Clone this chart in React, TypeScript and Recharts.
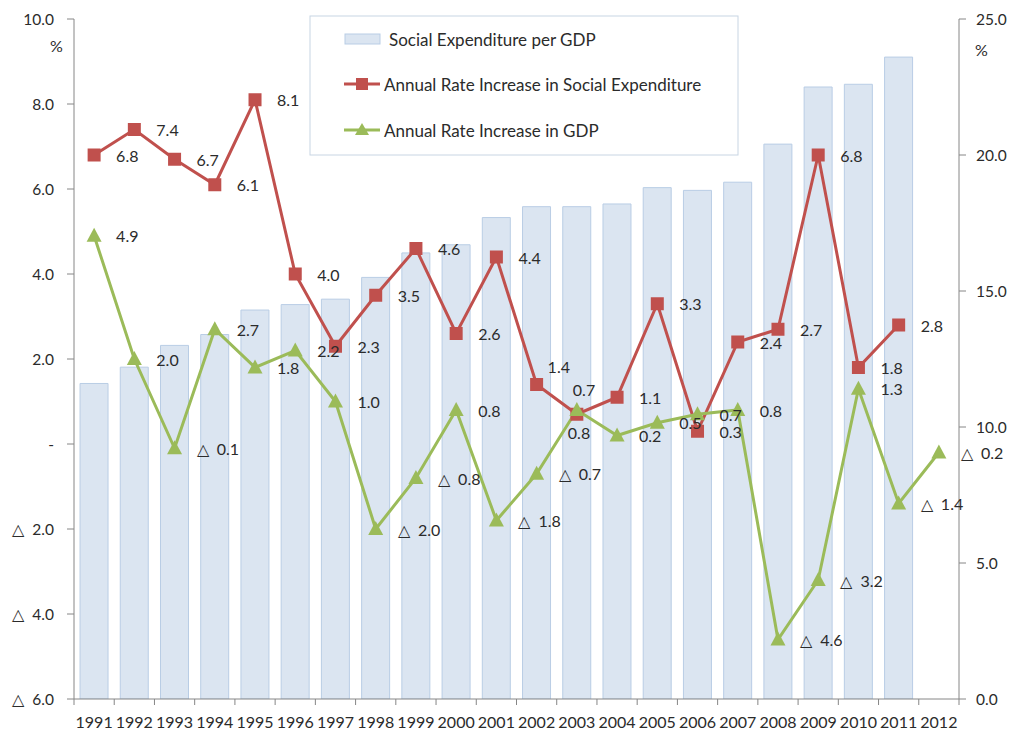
import React from "react";
import { ComposedChart, Bar, Line, XAxis, YAxis, LabelList } from "recharts";

const years = ["1991", "1992", "1993", "1994", "1995", "1996", "1997", "1998", "1999", "2000", "2001", "2002", "2003", "2004", "2005", "2006", "2007", "2008", "2009", "2010", "2011", "2012"];
const socialExpPerGdp = [11.6, 12.2, 13.0, 13.4, 14.3, 14.5, 14.7, 15.5, 16.4, 16.7, 17.7, 18.1, 18.1, 18.2, 18.8, 18.7, 19.0, 20.4, 22.5, 22.6, 23.6, null];
const socialExpGrowth = [6.8, 7.4, 6.7, 6.1, 8.1, 4.0, 2.3, 3.5, 4.6, 2.6, 4.4, 1.4, 0.7, 1.1, 3.3, 0.3, 2.4, 2.7, 6.8, 1.8, 2.8, null];
const gdpGrowth = [4.9, 2.0, -0.1, 2.7, 1.8, 2.2, 1.0, -2.0, -0.8, 0.8, -1.8, -0.7, 0.8, 0.2, 0.5, 0.7, 0.8, -4.6, -3.2, 1.3, -1.4, -0.2];
const leftTicks = [-6, -4, -2, 0, 2, 4, 6, 8, 10];
const rightTicks = [0, 5, 10, 15, 20, 25];

const data = years.map((year, i) => ({
  year,
  exp: socialExpPerGdp[i],
  expGrowth: socialExpGrowth[i],
  gdp: gdpGrowth[i],
}));

const RED = "#c0504d";
const GREEN = "#9bbb59";
const BAR_FILL = "#dbe5f1";
const BAR_STROKE = "#b9cde5";
const AXIS = "#868686";
const TEXT = "#2b2b2b";
const FONT = "Lato, 'Open Sans', sans-serif";

const W = 1017;
const H = 733;
const LEFT = 74;
const RIGHT = 58;
const TOP = 19;
const BOTTOM = 34;
const band = (W - LEFT - RIGHT) / years.length;
const axisY = H - BOTTOM;

// a few labels were dragged around by hand in the original
const redNudge: Record<string, [number, number]> = { "2002": [11, -18], "2003": [-4, -25] };
const greenNudge: Record<string, [number, number]> = { "2003": [-9, 22] };

// negatives are written with a triangle, zero as a dash
const fmt = (v: number) => (v === 0 ? "-" : v < 0 ? `\u25b3\u00a0 ${Math.abs(v).toFixed(1)}` : v.toFixed(1));

const makeLabel = (nudge: Record<string, [number, number]>) => (props: any) => {
  const { x, y, value, index } = props;
  if (value == null) return null;
  const [dx, dy] = nudge[years[index]] ?? [22, 0];
  return (
    <text x={x + dx} y={y + dy} dominantBaseline="central" textAnchor="start" fontFamily={FONT} fontSize={16} fill={TEXT}>
      {fmt(value)}
    </text>
  );
};

const SquareDot = (props: any) => {
  const { cx, cy, value } = props;
  if (value == null || cx == null) return null;
  return <rect x={cx - 6.5} y={cy - 6.5} width={13} height={13} fill={RED} />;
};

const TriangleDot = (props: any) => {
  const { cx, cy, value } = props;
  if (value == null || cx == null) return null;
  return <polygon points={`${cx},${cy - 8} ${cx - 7.5},${cy + 6} ${cx + 7.5},${cy + 6}`} fill={GREEN} />;
};

const YearTick = (props: any) => {
  const { x, payload, index } = props;
  return (
    <g>
      <line x1={x - band / 2} x2={x - band / 2} y1={axisY} y2={axisY + 6} stroke={AXIS} />
      {index === years.length - 1 && <line x1={x + band / 2} x2={x + band / 2} y1={axisY} y2={axisY + 6} stroke={AXIS} />}
      <text x={x} y={axisY + 22} textAnchor="middle" dominantBaseline="central" fontFamily={FONT} fontSize={16} fill={TEXT}>
        {payload.value}
      </text>
    </g>
  );
};

function LegendBox() {
  return (
    <svg width={430} height={141} style={{ position: "absolute", left: 309, top: 15 }}>
      <rect x={1} y={1} width={428} height={139} fill="#fff" stroke="#c8d5e3" />
      <rect x={36} y={19} width={35} height={10} fill={BAR_FILL} stroke={BAR_STROKE} />
      <text x={80} y={24} dominantBaseline="central" fontFamily={FONT} fontSize={17} fill={TEXT}>Social Expenditure per GDP</text>
      <line x1={35} x2={71} y1={69} y2={69} stroke={RED} strokeWidth={3} />
      <rect x={47} y={63} width={12} height={12} fill={RED} />
      <text x={75} y={69} dominantBaseline="central" fontFamily={FONT} fontSize={17} fill={TEXT}>Annual Rate Increase in Social Expenditure</text>
      <line x1={35} x2={71} y1={115} y2={115} stroke={GREEN} strokeWidth={3} />
      <polygon points="53,108 46,120 60,120" fill={GREEN} />
      <text x={75} y={115} dominantBaseline="central" fontFamily={FONT} fontSize={17} fill={TEXT}>Annual Rate Increase in GDP</text>
    </svg>
  );
}

export default function App() {
  const tickStyle = { fontFamily: FONT, fontSize: 15.5, fill: TEXT };
  return (
    <div style={{ position: "absolute", left: 0, top: 0, width: W, height: H, background: "#fff" }}>
      <ComposedChart width={W} height={H} data={data} margin={{ top: TOP, right: 0, bottom: BOTTOM - 30, left: 0 }} barCategoryGap="15%">
        <XAxis dataKey="year" height={30} tickLine={false} axisLine={{ stroke: AXIS }} tick={<YearTick />} interval={0} />
        <YAxis
          yAxisId="left"
          width={LEFT}
          domain={[-6, 10]}
          ticks={leftTicks}
          tickFormatter={fmt}
          axisLine={{ stroke: AXIS }}
          tickLine={{ stroke: AXIS }}
          tickSize={7}
          tickMargin={13}
          tick={tickStyle}
          allowDataOverflow
        />
        <YAxis
          yAxisId="right"
          orientation="right"
          width={RIGHT}
          domain={[0, 25]}
          ticks={rightTicks}
          tickFormatter={(v: number) => v.toFixed(1)}
          axisLine={{ stroke: AXIS }}
          tickLine={{ stroke: AXIS }}
          tickSize={7}
          tickMargin={10}
          tick={tickStyle}
          allowDataOverflow
        />
        <Bar yAxisId="right" dataKey="exp" fill={BAR_FILL} stroke={BAR_STROKE} isAnimationActive={false} />
        <Line yAxisId="left" type="linear" dataKey="expGrowth" stroke={RED} strokeWidth={3} dot={<SquareDot />} activeDot={false} isAnimationActive={false}>
          <LabelList dataKey="expGrowth" content={makeLabel(redNudge)} />
        </Line>
        <Line yAxisId="left" type="linear" dataKey="gdp" stroke={GREEN} strokeWidth={3} dot={<TriangleDot />} activeDot={false} isAnimationActive={false}>
          <LabelList dataKey="gdp" content={makeLabel(greenNudge)} />
        </Line>
      </ComposedChart>
      <LegendBox />
      <div style={{ position: "absolute", left: 50, top: 36, fontFamily: FONT, fontSize: 16, color: TEXT }}>%</div>
      <div style={{ position: "absolute", left: 975, top: 40, fontFamily: FONT, fontSize: 16, color: TEXT }}>%</div>
    </div>
  );
}
